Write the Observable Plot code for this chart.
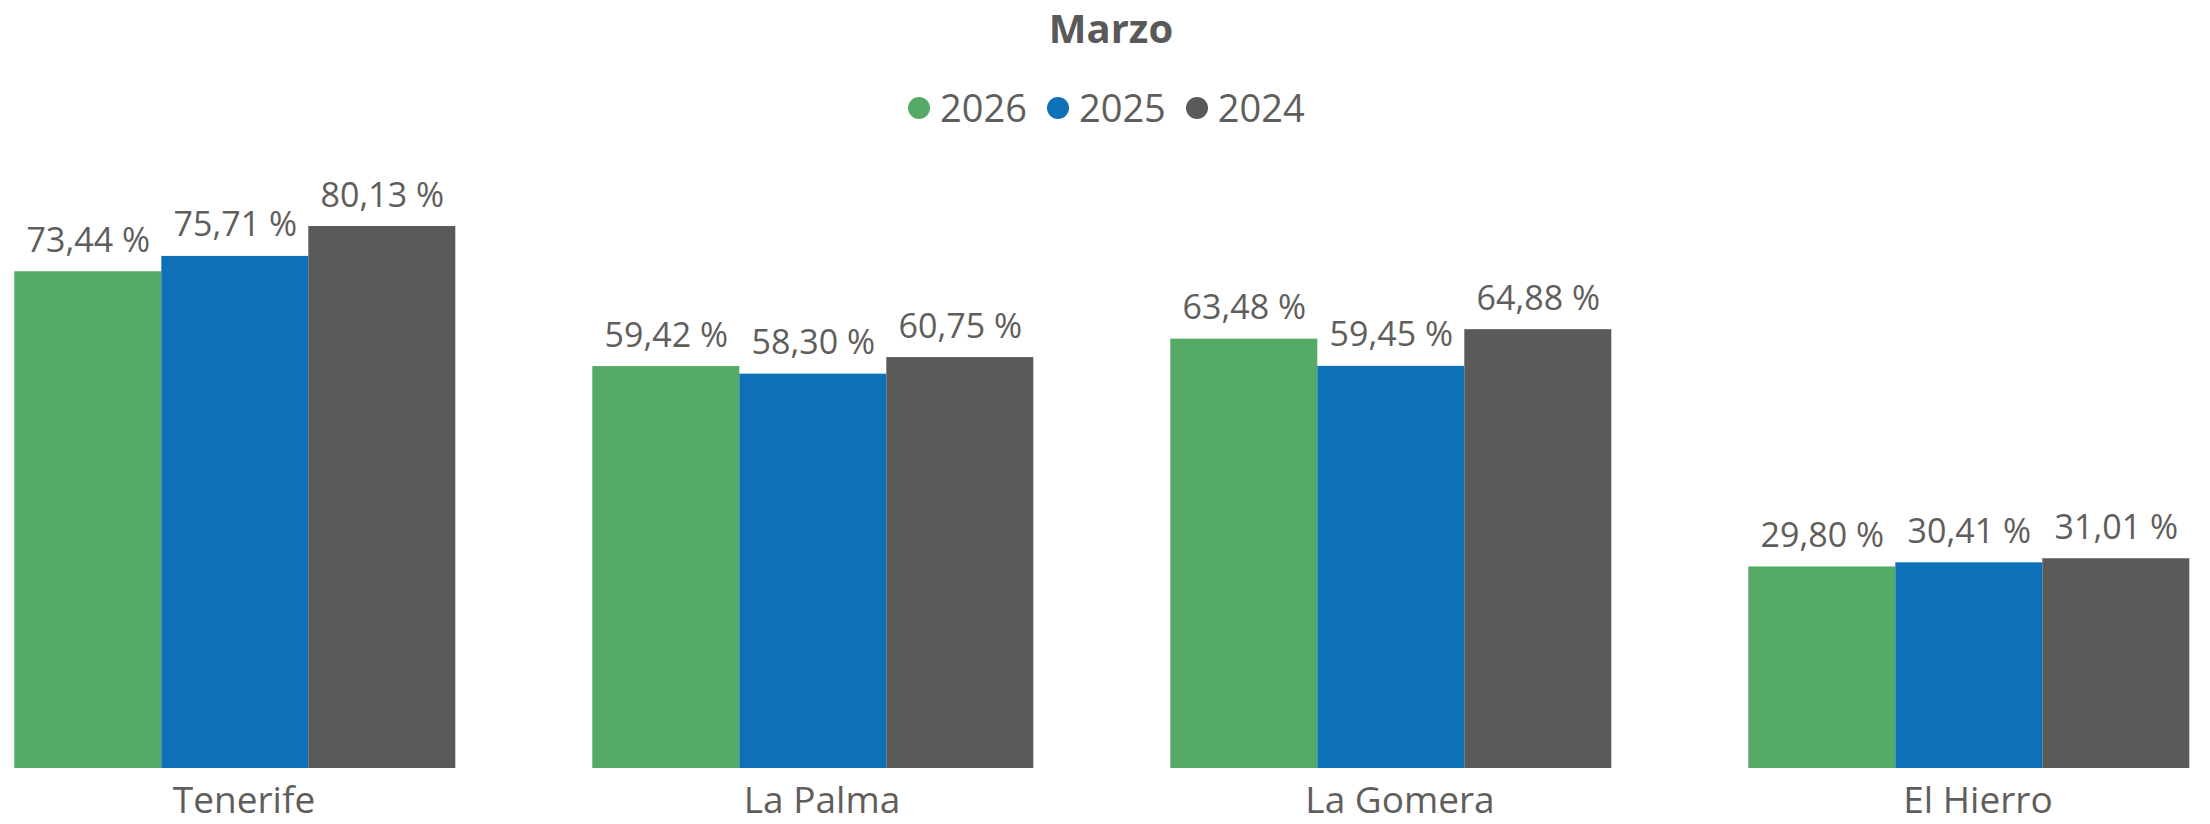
<!DOCTYPE html>
<html>
<head>
<meta charset="utf-8">
<script src="https://cdn.jsdelivr.net/npm/d3@7"></script>
<script src="https://cdn.jsdelivr.net/npm/@observablehq/plot@0.6"></script>
<style>
  html, body { margin: 0; padding: 0; background: #fff; }
  #page { position: relative; width: 2210px; height: 824px; overflow: hidden; font-family: "Open Sans", "Noto Sans", sans-serif; color: #605E5C; }
  #title { position: absolute; left: 0; top: 0px; width: 2210px; padding-left: 12px; box-sizing: border-box; text-align: center; font-weight: 700; font-size: 40px; line-height: normal; color: #595959; }
  #legend { position: absolute; left: 908px; top: 88px; display: flex; align-items: center; font-size: 38px; line-height: 39px; }
  .item { display: flex; align-items: center; margin-right: 20px; }
  .dot { width: 22px; height: 22px; border-radius: 50%; margin-right: 10px; }
  #chart { position: absolute; left: 0; top: 150px; }
</style>
</head>
<body>
<div id="page">
  <div id="title"></div>
  <div id="legend"></div>
  <div id="chart"></div>
</div>
<script>
const title = "Marzo";
const islands = ["Tenerife", "La Palma", "La Gomera", "El Hierro"];
const years = ["2026", "2025", "2024"];
const colors = ["#55AB65", "#0E71B8", "#5A5A5A"];
const values2026 = [73.44, 59.42, 63.48, 29.80];
const values2025 = [75.71, 58.30, 59.45, 30.41];
const values2024 = [80.13, 60.75, 64.88, 31.01];

const series = [values2026, values2025, values2024];
const data = [];
islands.forEach((isl, i) => {
  years.forEach((yr, j) => {
    data.push({island: isl, year: yr, value: series[j][i]});
  });
});

document.getElementById("title").textContent = title;
const legend = document.getElementById("legend");
years.forEach((yr, j) => {
  const item = document.createElement("div");
  item.className = "item";
  const dot = document.createElement("span");
  dot.className = "dot";
  dot.style.background = colors[j];
  const label = document.createElement("span");
  label.textContent = yr;
  item.appendChild(dot);
  item.appendChild(label);
  legend.appendChild(item);
});

const fmt = v => v.toFixed(2).replace(".", ",") + " %";
const ymax = d3.max(data, d => d.value);

const chart = Plot.plot({
  width: 2210,
  height: 674,
  marginLeft: 12.7,
  marginRight: 19,
  marginTop: 76,
  marginBottom: 56,
  style: { fontFamily: "'Open Sans', 'Noto Sans', sans-serif", color: "#605E5C", background: "transparent", overflow: "visible" },
  fx: { domain: islands, paddingInner: 0.233, paddingOuter: 0, label: null },
  x: { domain: years, paddingInner: 0, paddingOuter: 0, axis: null },
  y: { domain: [0, ymax], axis: null },
  color: { domain: years, range: colors },
  marks: [
    Plot.barY(data, { fx: "island", x: "year", y: "value", fill: "year", inset: 0 }),
    Plot.text(data, { fx: "island", x: "year", y: "value", text: d => fmt(d.value), lineAnchor: "bottom", dy: -20, fontSize: 34, fill: "#605E5C" }),
    Plot.axisFx({ anchor: "bottom", tickSize: 0, tickPadding: 18, fontSize: 37, dx: 9, label: null, color: "#605E5C" })
  ]
});
document.getElementById("chart").appendChild(chart);
</script>
</body>
</html>
